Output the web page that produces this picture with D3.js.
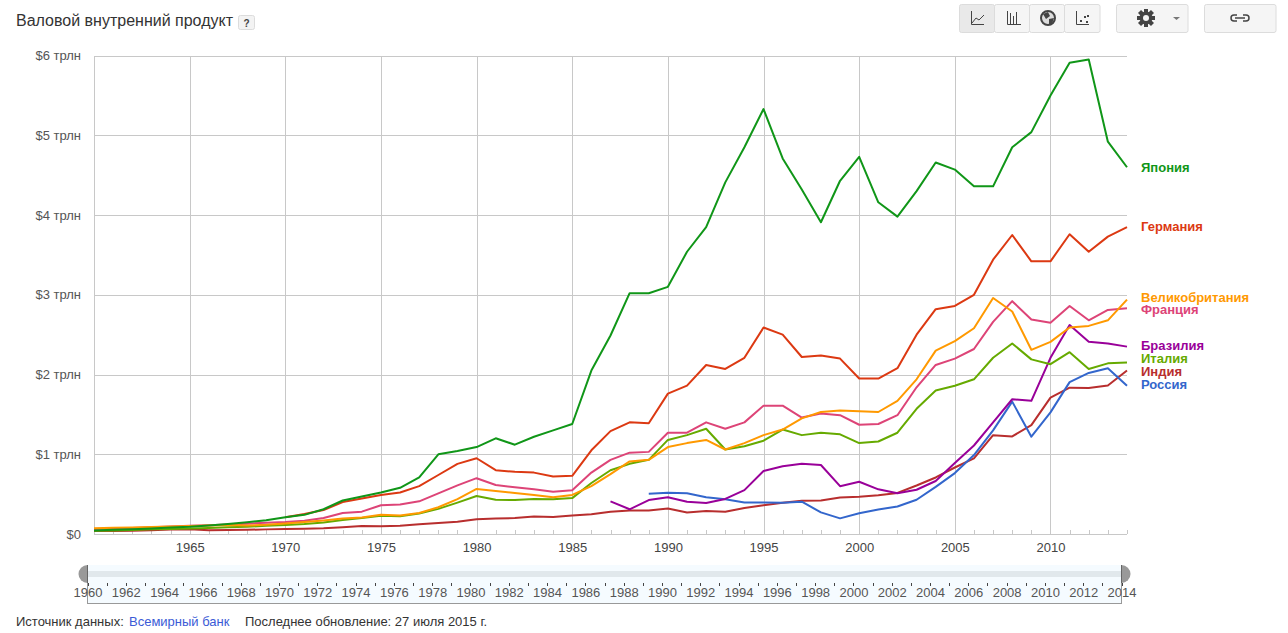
<!DOCTYPE html>
<html><head><meta charset="utf-8">
<script src="https://cdn.jsdelivr.net/npm/d3@7/dist/d3.min.js"></script>
<style>
html,body{margin:0;padding:0;background:#fff}
svg{display:block}
text{font-family:"Liberation Sans",Arial,sans-serif}
</style></head><body>
<svg id="c" width="1288" height="633"></svg>
<script>
const title="Валовой внутренний продукт";
const yTickValues=[0,1,2,3,4,5,6];
const yTickLabels=["$0","$1 трлн","$2 трлн","$3 трлн","$4 трлн","$5 трлн","$6 трлн"];
const majorYears=[1965,1970,1975,1980,1985,1990,1995,2000,2005,2010];
const firstYear=1960,lastYear=2014;

const japan=[.044,.054,.061,.070,.083,.091,.106,.124,.147,.172,.21,.24,.31,.42,.47,.52,.58,.71,1.0,1.04,1.09,1.20,1.12,1.22,1.30,1.38,2.05,2.49,3.02,3.02,3.10,3.54,3.85,4.41,4.85,5.33,4.71,4.32,3.91,4.43,4.73,4.16,3.98,4.30,4.66,4.57,4.36,4.36,4.85,5.04,5.50,5.91,5.95,4.92,4.60];
const germany=[.209,.25,.30,.40,.445,.49,.52,.60,.74,.88,.95,.80,.78,.77,.72,.73,1.05,1.29,1.40,1.39,1.76,1.86,2.12,2.07,2.21,2.59,2.50,2.22,2.24,2.20,1.95,1.95,2.08,2.50,2.82,2.86,3.00,3.44,3.75,3.42,3.42,3.76,3.54,3.73,3.85];
const uk=[.072,.077,.081,.087,.094,.101,.108,.112,.107,.116,.131,.149,.170,.193,.206,.241,.232,.263,.336,.438,.565,.54,.515,.49,.46,.49,.60,.75,.91,.93,1.09,1.14,1.18,1.06,1.14,1.24,1.31,1.45,1.53,1.55,1.54,1.53,1.67,1.94,2.30,2.42,2.58,2.96,2.79,2.31,2.41,2.59,2.61,2.68,2.94];
const france=[.063,.068,.076,.086,.094,.102,.11,.119,.13,.14,.149,.165,.20,.264,.28,.36,.37,.41,.51,.61,.70,.615,.585,.56,.53,.55,.77,.93,1.02,1.03,1.27,1.27,1.40,1.32,1.40,1.61,1.61,1.46,1.51,1.49,1.37,1.38,1.49,1.84,2.12,2.20,2.32,2.66,2.92,2.69,2.65,2.86,2.68,2.81,2.83];
const brazil=[.41,.31,.425,.46,.405,.39,.44,.55,.79,.85,.88,.865,.60,.655,.56,.51,.555,.665,.89,1.11,1.40,1.69,1.67,2.21,2.62,2.41,2.39,2.35];
const italy=[.04,.045,.05,.058,.063,.068,.076,.084,.092,.102,.113,.125,.145,.176,.2,.228,.224,.258,.315,.394,.476,.43,.426,.44,.435,.45,.64,.80,.88,.93,1.18,1.24,1.32,1.06,1.10,1.17,1.31,1.24,1.27,1.25,1.14,1.16,1.27,1.57,1.80,1.86,1.94,2.21,2.39,2.19,2.13,2.28,2.07,2.14,2.15];
const india=[.037,.039,.042,.048,.056,.059,.046,.05,.053,.058,.062,.067,.071,.085,.099,.098,.102,.121,.137,.153,.186,.193,.2,.218,.212,.233,.249,.28,.296,.296,.32,.27,.288,.279,.327,.36,.392,.416,.421,.459,.468,.485,.515,.608,.709,.834,.949,1.239,1.224,1.365,1.71,1.835,1.832,1.862,2.05];
const russia=[.506,.517,.51,.46,.435,.395,.395,.392,.405,.271,.196,.26,.307,.345,.43,.591,.764,.99,1.3,1.66,1.22,1.525,1.905,2.02,2.08,1.86];

const seriesNames=["Индия","Россия","Бразилия","Италия","Франция","Великобритания","Германия","Япония"];
const seriesValues=[india,russia,brazil,italy,france,uk,germany,japan];
const seriesStarts=[1960,1989,1987,1960,1960,1960,1970,1960];
const seriesColors=["#b82e2e","#3366cc","#990099","#66aa00","#dd4477","#ff9900","#dc3912","#109618"];
const labelValues=[2.03,1.865,2.355,2.19,2.805,2.965,3.85,4.595];

const svg=d3.select("#c");
const M={l:94,r:1127,t:55.6,b:534,labelX:1141};
const x=d3.scaleLinear().domain([firstYear,lastYear]).range([M.l,M.r]);
const y=d3.scaleLinear().domain([0,6]).range([M.b,M.t]);
const grid="#c8c8c8";
const FF="'Liberation Sans',Arial,sans-serif";

// title
svg.append("text").attr("x",16).attr("y",26).attr("font-size",16).attr("fill","#333").text(title);
svg.append("rect").attr("x",238.5).attr("y",15.5).attr("width",16).attr("height",14).attr("rx",2).attr("fill","#f3f3f3").attr("stroke","#dcdcdc");
svg.append("text").attr("x",246.5).attr("y",26.5).attr("text-anchor","middle").attr("font-size",10).attr("font-weight","bold").attr("fill","#444").text("?");

// y grid + axis
const yAxis=d3.axisLeft(y).tickValues(yTickValues).tickFormat((d,i)=>yTickLabels[i]).tickSize(-(M.r-M.l)).tickPadding(13);
const gy=svg.append("g").attr("transform",`translate(${M.l},0)`).call(yAxis);
gy.select(".domain").remove();
gy.selectAll("line").attr("stroke",grid).attr("stroke-width",1).attr("shape-rendering","crispEdges");
gy.selectAll("text").attr("font-size",13).attr("fill","#555").attr("font-family",FF);

// x major
const xMajor=d3.axisBottom(x).tickValues(majorYears).tickFormat(d3.format("d")).tickSize(-(M.b-M.t)).tickPadding(9);
const gx=svg.append("g").attr("transform",`translate(0,${M.b})`).call(xMajor);
gx.select(".domain").remove();
gx.selectAll("line").attr("stroke",grid).attr("shape-rendering","crispEdges");
gx.selectAll("text").attr("font-size",13).attr("fill","#444").attr("font-family",FF);

// x minor
const xMinor=d3.axisBottom(x).tickValues(d3.range(firstYear,lastYear+1)).tickFormat("").tickSize(-4);
const gm=svg.append("g").attr("transform",`translate(0,${M.b})`).call(xMinor);
gm.select(".domain").remove();
gm.selectAll("line").attr("stroke",grid).attr("shape-rendering","crispEdges");

// left edge
svg.append("line").attr("x1",x(firstYear)).attr("x2",x(firstYear)).attr("y1",M.t).attr("y2",M.b).attr("stroke",grid).attr("shape-rendering","crispEdges");

// lines
const line=d3.line().x(d=>x(d.year)).y(d=>y(d.v));
seriesValues.forEach((vals,i)=>{
  const pts=vals.map((v,k)=>({year:seriesStarts[i]+k,v}));
  svg.append("path").datum(pts).attr("d",line).attr("fill","none").attr("stroke",seriesColors[i]).attr("stroke-width",2).attr("stroke-linejoin","round");
  svg.append("text").attr("x",M.labelX).attr("y",y(labelValues[i])+4).attr("font-size",13).attr("font-weight","bold").attr("fill",seriesColors[i]).text(seriesNames[i]);
});

// timeline
const tx=d3.scaleLinear().domain([firstYear,lastYear]).range([87.5,1121.5]);
const T={t:565,b:603};
svg.append("rect").attr("x",tx(firstYear)).attr("y",T.t).attr("width",tx(lastYear)-tx(firstYear)).attr("height",T.b-T.t).attr("fill","#f5fbff");
svg.append("rect").attr("x",tx(firstYear)).attr("y",571).attr("width",tx(lastYear)-tx(firstYear)).attr("height",6).attr("fill","#e1e8ec");
svg.append("path").attr("d",`M${tx(firstYear)},${T.t}V${T.b}H${tx(lastYear)}V${T.t}`).attr("fill","none").attr("stroke","#999").attr("shape-rendering","crispEdges");
const tAxis=d3.axisBottom(tx).tickValues(d3.range(firstYear,lastYear+1)).tickFormat(d=>(d%2===0?d:"")).tickSize(3).tickPadding(2);
const gt=svg.append("g").attr("transform",`translate(0,583)`).call(tAxis);
gt.select(".domain").remove();
gt.selectAll("line").attr("stroke","#444").attr("shape-rendering","crispEdges");
gt.selectAll("text").attr("font-size",13).attr("fill","#555").attr("font-family",FF);
[firstYear,lastYear].forEach((yr,i)=>{
  const hx=tx(yr);
  svg.append("path").attr("d",`M${hx},${T.t}A9,9 0 0 ${i?1:0} ${hx},${T.t+18}Z`).attr("fill","#999");
  svg.append("line").attr("x1",hx).attr("x2",hx).attr("y1",T.t).attr("y2",T.t+18).attr("stroke","#666").attr("shape-rendering","crispEdges");
});

// footer
svg.append("text").attr("x",16).attr("y",626).attr("font-size",13).attr("fill","#333").text("Источник данных:");
svg.append("text").attr("x",129).attr("y",626).attr("font-size",13).attr("fill","#3b5bd6").text("Всемирный банк");
svg.append("text").attr("x",245).attr("y",626).attr("font-size",13).attr("fill","#333").text("Последнее обновление: 27 июля 2015 г.");

// toolbar
const tb=svg.append("g");
[[959,35,"#e9e9e9"],[994,35,"#f5f5f5"],[1029,35,"#f5f5f5"],[1064,35.5,"#f5f5f5"],[1116,71.5,"#f5f5f5"],[1204,71.5,"#f5f5f5"]].forEach(b=>{
  tb.append("rect").attr("x",b[0]+.5).attr("y",4.5).attr("width",b[1]).attr("height",28).attr("rx",2).attr("fill",b[2]).attr("stroke","#dcdcdc");
});
const ic="#444";
tb.append("path").attr("d","M971.5,11V24.5H984M972,23L976,18L979,20L984,15").attr("fill","none").attr("stroke",ic);
tb.append("path").attr("d","M1007.5,11V24.5H1021M1010.5,13V24M1013.5,16V24M1016.5,12V24").attr("fill","none").attr("stroke",ic);
tb.append("circle").attr("cx",1048).attr("cy",18).attr("r",7).attr("fill","#ddd").attr("stroke",ic).attr("stroke-width",2);
tb.append("path").attr("d","M1043,14L1048,12L1050,16L1046,19ZM1049,19L1054,18L1052,24L1049,24Z").attr("fill",ic);
tb.append("path").attr("d","M1076.5,11V24.5H1089").attr("fill","none").attr("stroke",ic);
tb.append("path").attr("d","M1080,20h2v2h-2zM1084,16h2v2h-2zM1086,21h2v2h-2zM1087,15h2v2h-2z").attr("fill",ic);
// gear
const gear=tb.append("g").attr("transform","translate(1146,18)");
d3.range(8).forEach(k=>gear.append("rect").attr("x",-2).attr("y",-9).attr("width",4).attr("height",18).attr("fill",ic).attr("transform",`rotate(${k*45})`));
gear.append("circle").attr("r",6.5).attr("fill",ic);
gear.append("circle").attr("r",3).attr("fill","#f5f5f5");
tb.append("path").attr("d","M1173,17h7l-3.5,3z").attr("fill","#777");
// link icon
tb.append("path").attr("d","M1237,15h-3a3,3 0 0 0 0,6h3M1243,15h3a3,3 0 0 1 0,6h-3M1235,18h10").attr("fill","none").attr("stroke",ic).attr("stroke-width",1.5);
</script>
</body></html>
